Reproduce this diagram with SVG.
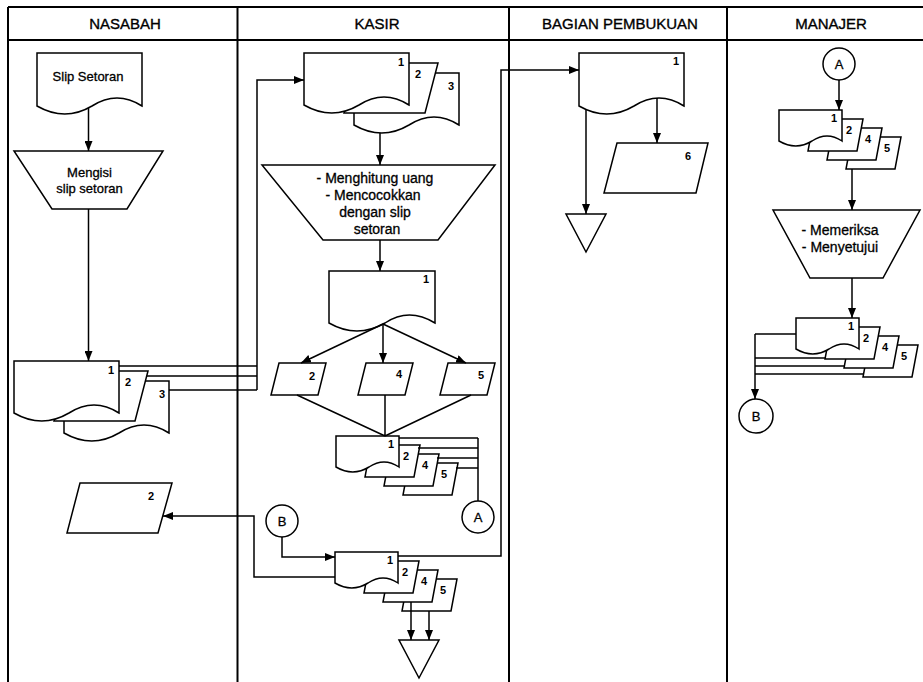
<svg xmlns="http://www.w3.org/2000/svg" width="923" height="682" viewBox="0 0 923 682">
<style>
.lane{fill:none;stroke:#000;stroke-width:2}
.sh{fill:#fff;stroke:#000;stroke-width:1.5;stroke-linejoin:miter}
.cn{fill:none;stroke:#000;stroke-width:1.5}
.hdr{font-family:"Liberation Sans",Arial,sans-serif;font-size:15px;text-anchor:middle;fill:#000;stroke:#000;stroke-width:0.35}
.t13{font-family:"Liberation Sans",Arial,sans-serif;font-size:13px;text-anchor:middle;fill:#000;stroke:#000;stroke-width:0.3}
.t14{font-family:"Liberation Sans",Arial,sans-serif;font-size:14px;text-anchor:middle;fill:#000;stroke:#000;stroke-width:0.3}
.num{font-family:"Liberation Sans",Arial,sans-serif;font-size:11px;font-weight:bold;text-anchor:middle;fill:#000}
.cir{font-family:"Liberation Sans",Arial,sans-serif;font-size:13px;text-anchor:middle;fill:#000;stroke:#000;stroke-width:0.3}
</style>
<defs>
<marker id="arr" markerWidth="10" markerHeight="8" refX="10" refY="4" orient="auto" markerUnits="userSpaceOnUse">
<path d="M0,0 L10,4 L0,8 Z" fill="#000"/>
</marker>
</defs>
<rect width="923" height="682" fill="#fff"/>

<g id="lanes">
<path class="lane" d="M8,7 H923 M8,40 H923 M8,7 V682 M237.5,7 V682 M509,7 V682 M727,7 V682"/>
<text class="hdr" x="125" y="29">NASABAH</text>
<text class="hdr" x="377" y="29">KASIR</text>
<text class="hdr" x="620" y="29">BAGIAN PEMBUKUAN</text>
<text class="hdr" x="831" y="29">MANAJER</text>
</g>

<!-- NASABAH -->
<g id="slip-setoran" transform="translate(37,53)">
<path class="sh" d="M0,0 H105 V53 Q80,37 55,53 Q28,69 0,53 Z"/>
<text class="t13" x="51" y="28">Slip Setoran</text>
</g>
<g id="mengisi">
<polygon class="sh" points="14,151 163,151 127,209 52,209"/>
<text class="t13" x="89.5" y="177">Mengisi</text>
<text class="t13" x="89.5" y="193">slip setoran</text>
</g>
<g id="nasabah-stack" transform="translate(14,361)">
<path class="sh" d="M50,20 H155 V72 Q130,56 105,72 Q78,88 50,72 Z"/>
<polygon class="sh" points="53,10 134,10 121,60 40,60"/>
<path class="sh" d="M0,0 H105 V52 Q80,36 55,52 Q28,68 0,52 Z"/>
<text class="num" x="97" y="13">1</text>
<text class="num" x="114" y="25">2</text>
<text class="num" x="148" y="37">3</text>
</g>
<g id="nasabah-lembar2">
<polygon class="sh" points="80,483 172,483 158,533 67,533"/>
<text class="num" x="151" y="500">2</text>
</g>

<!-- KASIR -->
<g id="kasir-stack-top" transform="translate(304,53)">
<path class="sh" d="M50,20 H155 V72 Q130,56 105,72 Q78,88 50,72 Z"/>
<polygon class="sh" points="53,10 134,10 121,60 40,60"/>
<path class="sh" d="M0,0 H105 V52 Q80,36 55,52 Q28,68 0,52 Z"/>
<text class="num" x="97" y="13">1</text>
<text class="num" x="114" y="25">2</text>
<text class="num" x="147" y="37">3</text>
</g>
<g id="kasir-proses">
<polygon class="sh" points="262,165 495,165 438,240 323,240"/>
<text class="t14" x="375" y="183">- Menghitung uang</text>
<text class="t14" x="373" y="200">- Mencocokkan</text>
<text class="t14" x="375" y="217">dengan slip</text>
<text class="t14" x="377" y="234">setoran</text>
</g>
<g id="kasir-doc" transform="translate(329,271)">
<path class="sh" d="M0,0 H106 V52 Q80,36 56,52 Q28,68 0,52 Z"/>
<text class="num" x="97" y="12">1</text>
</g>
<g id="kasir-p2">
<polygon class="sh" points="279,363 326,363 318,395 271,395"/>
<text class="num" x="312" y="380">2</text>
</g>
<g id="kasir-p4">
<polygon class="sh" points="366,363 413,363 405,395 358,395"/>
<text class="num" x="399" y="378">4</text>
</g>
<g id="kasir-p5">
<polygon class="sh" points="448,363 495,363 487,395 440,395"/>
<text class="num" x="481" y="379">5</text>
</g>
<g id="kasir-stack-mid" transform="translate(336,436)">
<polygon class="sh" points="73,27 122,27 116,59 67,59"/>
<polygon class="sh" points="54,18 103,18 97,50 48,50"/>
<polygon class="sh" points="35,9 84,9 78,41 29,41"/>
<path class="sh" d="M0,0 H63 V31 Q48,21 33,31 Q17,41 0,31 Z"/>
<text class="num" x="55" y="12">1</text>
<text class="num" x="70" y="24">2</text>
<text class="num" x="89" y="33">4</text>
<text class="num" x="108" y="42">5</text>
</g>
<g id="kasir-conn-a">
<circle class="sh" cx="478" cy="517" r="16"/>
<text class="cir" x="478" y="522">A</text>
</g>
<g id="kasir-conn-b">
<circle class="sh" cx="282" cy="521" r="16"/>
<text class="cir" x="282" y="526">B</text>
</g>
<g id="kasir-stack-bottom" transform="translate(335,552)">
<polygon class="sh" points="73,27 122,27 116,59 67,59"/>
<polygon class="sh" points="54,18 103,18 97,50 48,50"/>
<polygon class="sh" points="35,9 84,9 78,41 29,41"/>
<path class="sh" d="M0,0 H63 V31 Q48,21 33,31 Q17,41 0,31 Z"/>
<text class="num" x="55" y="12">1</text>
<text class="num" x="70" y="24">2</text>
<text class="num" x="89" y="33">4</text>
<text class="num" x="108" y="42">5</text>
</g>
<g id="kasir-arsip">
<polygon class="sh" points="399,640 439,640 419,678"/>
</g>

<!-- BAGIAN PEMBUKUAN -->
<g id="pembukuan-doc" transform="translate(579,53)">
<path class="sh" d="M0,0 H105 V53 Q80,37 55,53 Q28,69 0,53 Z"/>
<text class="num" x="97" y="12">1</text>
</g>
<g id="pembukuan-p6">
<polygon class="sh" points="617,143 708,143 696,193 604,193"/>
<text class="num" x="688" y="160">6</text>
</g>
<g id="pembukuan-arsip">
<polygon class="sh" points="566,214 606,214 586,252"/>
</g>

<!-- MANAJER -->
<g id="manajer-conn-a">
<circle class="sh" cx="839" cy="64" r="16"/>
<text class="cir" x="839" y="69">A</text>
</g>
<g id="manajer-stack-1" transform="translate(779,110)">
<polygon class="sh" points="73,27 122,27 116,59 67,59"/>
<polygon class="sh" points="54,18 103,18 97,50 48,50"/>
<polygon class="sh" points="35,9 84,9 78,41 29,41"/>
<path class="sh" d="M0,0 H63 V31 Q48,21 33,31 Q17,41 0,31 Z"/>
<text class="num" x="55" y="12">1</text>
<text class="num" x="70" y="24">2</text>
<text class="num" x="89" y="33">4</text>
<text class="num" x="108" y="42">5</text>
</g>
<g id="manajer-proses">
<polygon class="sh" points="773,210 920,210 883,278 810,278"/>
<text class="t14" x="840" y="235">- Memeriksa</text>
<text class="t14" x="840" y="252">- Menyetujui</text>
</g>
<g id="manajer-stack-2" transform="translate(796,318)">
<polygon class="sh" points="73,27 122,27 116,59 67,59"/>
<polygon class="sh" points="54,18 103,18 97,50 48,50"/>
<polygon class="sh" points="35,9 84,9 78,41 29,41"/>
<path class="sh" d="M0,0 H63 V31 Q48,21 33,31 Q17,41 0,31 Z"/>
<text class="num" x="55" y="12">1</text>
<text class="num" x="70" y="24">2</text>
<text class="num" x="89" y="33">4</text>
<text class="num" x="108" y="42">5</text>
</g>
<g id="manajer-conn-b">
<circle class="sh" cx="756" cy="416" r="17"/>
<text class="cir" x="756" y="421">B</text>
</g>

<g id="connectors">
<path class="cn" d="M88.5,108 V151" marker-end="url(#arr)"/>
<path class="cn" d="M88.5,209 V361" marker-end="url(#arr)"/>
<path class="cn" d="M119,366 H257 M147,376 H257 M169,390 H257"/>
<path class="cn" d="M257,390 V80 H304" marker-end="url(#arr)"/>
<path class="cn" d="M380,133 V165" marker-end="url(#arr)"/>
<path class="cn" d="M380,240 V271" marker-end="url(#arr)"/>
<path class="cn" d="M383,324 L301,363" marker-end="url(#arr)"/>
<path class="cn" d="M383,324 V363" marker-end="url(#arr)"/>
<path class="cn" d="M383,324 L466,363" marker-end="url(#arr)"/>
<path class="cn" d="M297,395 L385,436 M385,395 V436 M471,395 L385,436"/>
<path class="cn" d="M399,438 H478 M418,448 H478 M437,458 H478 M456,468 H478 M478,438 V501"/>
<path class="cn" d="M282,537 V557 H335" marker-end="url(#arr)"/>
<path class="cn" d="M335,577 H254 V516 H163" marker-end="url(#arr)"/>
<path class="cn" d="M398,556 H501 V70 H579" marker-end="url(#arr)"/>
<path class="cn" d="M411,602 V640" marker-end="url(#arr)"/>
<path class="cn" d="M429,611 V640" marker-end="url(#arr)"/>
<path class="cn" d="M657,98 V143" marker-end="url(#arr)"/>
<path class="cn" d="M586,110 V214" marker-end="url(#arr)"/>
<path class="cn" d="M839,80 V110" marker-end="url(#arr)"/>
<path class="cn" d="M852,169 V210" marker-end="url(#arr)"/>
<path class="cn" d="M852,278 V318" marker-end="url(#arr)"/>
<path class="cn" d="M796,334 H755 M825,358 H755 M844,366 H755 M863,374 H755"/>
<path class="cn" d="M755,334 V399" marker-end="url(#arr)"/>
</g>
</svg>
